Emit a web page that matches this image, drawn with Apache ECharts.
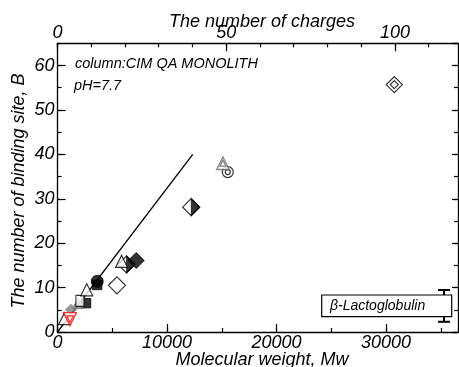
<!DOCTYPE html>
<html>
<head>
<meta charset="utf-8">
<script src="https://cdn.jsdelivr.net/npm/echarts@6/dist/echarts.min.js"></script>
<style>
  html, body { margin: 0; padding: 0; background: #fff; }
  #chart { width: 459px; height: 367px; }
</style>
</head>
<body>
<div id="chart"></div>
<script>
// Axis extents
const mwMax = 36575;      // molecular weight (bottom)
const chargeMax = 118.7;  // number of charges (top)
const bMax = 65;          // number of binding sites

// Axis titles
const titleBottom = 'Molecular weight, Mw';
const titleTop = 'The number of charges';
const titleLeft = 'The number of binding site, B';

// Linear guide through the origin
const fitLine = [[0, 0], [12350, 40]];

// Protein points: [Mw, B]
const dblDiamond   = [[30760, 55.7]];
const dblTriangle  = [[15110, 38.0]];
const dblCircle    = [[15550, 36.0]];
const halfDiamond  = [[12210, 28.1], [6300, 15.2]];
const blackDiamond = [[7190, 16.1]];
const openTriangle = [[5850, 15.9], [2670, 9.5], [640, 3.0]];
const openDiamond  = [[5430, 10.5]];
const blackSquare  = [[3620, 10.6], [2600, 6.5]];
const blackCircle  = [[3630, 11.4]];
const openSquare   = [[2050, 7.0]];
const greyTriangle = [[1870, 6.5]];
const greyDiamond  = [[1230, 5.0]];
const redTriangle  = [[1140, 2.9]];

// Error bar: [Mw, low, high]
const errorBar = [[35300, 2.3, 9.45]];

const legendLabel = 'β-Lactoglobulin';
const noteLines = ['column:CIM QA MONOLITH', 'pH=7.7'];

const FONT = 'Liberation Sans, Arial, sans-serif';
const lblStyle = { fontFamily: FONT, fontStyle: 'italic', fontSize: 18, color: '#000' };
const axisLineStyle = { color: '#000', width: 1.3 };
const plain = (v) => String(v);

function majorAxis(extra) {
  return Object.assign({
    type: 'value', min: 0, splitLine: { show: false },
    axisLine: { show: true, onZero: false, lineStyle: axisLineStyle },
    axisTick: { show: true, inside: true, length: 8, lineStyle: { color: '#000', width: 1.2 } },
    axisLabel: Object.assign({ showMaxLabel: false, formatter: plain }, lblStyle)
  }, extra);
}
function minorAxis(extra) {
  return Object.assign({
    type: 'value', min: 0, splitLine: { show: false },
    axisLine: { show: false, onZero: false },
    axisTick: { show: true, inside: true, length: 4, lineStyle: { color: '#000', width: 1.2 } },
    axisLabel: { show: false }
  }, extra);
}

function pts(data, symbol, size, style, extra) {
  return Object.assign({
    type: 'scatter', data: data, symbol: symbol, symbolSize: size,
    itemStyle: style, silent: true
  }, extra || {});
}
const hollow = (c, w) => ({ color: '#fff', borderColor: c, borderWidth: w || 1.2 });
const hollowNoFill = (c, w) => ({ color: 'rgba(0,0,0,0)', borderColor: c, borderWidth: w || 1.2 });
const solid = (c) => ({ color: c, borderColor: c, borderWidth: 1 });

const halfPath = 'path://M0,0 L10,10 L0,20 Z';
const titleFont = 'italic 18px ' + FONT;
const noteFont = 'italic 14.5px ' + FONT;

const chart = echarts.init(document.getElementById('chart'), null, { renderer: 'canvas' });
chart.setOption({
  animation: false,
  backgroundColor: '#fff',
  grid: { left: 57.5, right: 1, top: 43.3, bottom: 35, containLabel: false, outerBoundsMode: 'none' },
  xAxis: [
    majorAxis({ position: 'bottom', max: mwMax, interval: 10000,
      axisLabel: Object.assign({ showMaxLabel: false, margin: 2, formatter: plain }, lblStyle) }),
    minorAxis({ position: 'bottom', max: mwMax, interval: 5000 }),
    majorAxis({ position: 'top', max: chargeMax, interval: 50,
      axisLabel: Object.assign({ showMaxLabel: false, margin: 1, formatter: plain }, lblStyle) }),
    minorAxis({ position: 'top', max: chargeMax, interval: 10 })
  ],
  yAxis: [
    majorAxis({ position: 'left', max: bMax, interval: 10,
      axisLabel: Object.assign({ showMaxLabel: false, margin: 3, formatter: plain }, lblStyle) }),
    minorAxis({ position: 'left', max: bMax, interval: 5 }),
    majorAxis({ position: 'right', max: bMax, interval: 10, axisLabel: { show: false }, axisTick: { show: true, inside: true, length: 6, lineStyle: { color: '#000', width: 1.2 } } }),
    minorAxis({ position: 'right', max: bMax, interval: 5 })
  ],
  graphic: [
    { type: 'text', x: 262, y: 13, z: 100,
      style: { text: titleTop, font: titleFont, fill: '#000', textAlign: 'center', textVerticalAlign: 'top' } },
    { type: 'text', x: 262, y: 351, z: 100,
      style: { text: titleBottom, font: titleFont, fill: '#000', textAlign: 'center', textVerticalAlign: 'top' } },
    { type: 'text', x: 19, y: 191, rotation: Math.PI / 2, z: 100,
      style: { text: titleLeft, font: titleFont, fill: '#000', textAlign: 'center', textVerticalAlign: 'middle' } },
    { type: 'text', left: 75, top: 56, z: 100,
      style: { text: noteLines[0], font: noteFont, fill: '#000' } },
    { type: 'text', left: 74, top: 78, z: 100,
      style: { text: noteLines[1], font: noteFont, fill: '#000' } },
    { type: 'rect', z: 100, shape: { x: 321.7, y: 295, width: 130, height: 21.7 },
      style: { fill: '#fff', stroke: '#000', lineWidth: 1.2 } },
    { type: 'text', z: 101, left: 330, top: 299,
      style: { text: legendLabel, font: 'italic 14px ' + FONT, fill: '#000' } }
  ],
  series: [
    { type: 'line', data: fitLine, symbol: 'none', silent: true,
      lineStyle: { color: '#000', width: 1.3 }, z: 1 },
    {
      type: 'custom', data: errorBar, silent: true, z: 3,
      renderItem: function (params, api) {
        const top = api.coord([api.value(0), api.value(2)]);
        const bot = api.coord([api.value(0), api.value(1)]);
        const hw = 6;
        const st = { stroke: '#000', lineWidth: 2 };
        return { type: 'group', children: [
          { type: 'line', shape: { x1: top[0], y1: top[1], x2: bot[0], y2: bot[1] }, style: st },
          { type: 'line', shape: { x1: top[0] - hw, y1: top[1], x2: top[0] + hw, y2: top[1] }, style: st },
          { type: 'line', shape: { x1: bot[0] - hw, y1: bot[1], x2: bot[0] + hw, y2: bot[1] }, style: st }
        ] };
      }
    },
    pts(dblDiamond, 'diamond', 16, hollow('#000')),
    pts(dblDiamond, 'diamond', 8, hollowNoFill('#000')),
    pts(dblCircle, 'circle', 11, hollow('#000')),
    pts(dblCircle, 'circle', 5, hollowNoFill('#000')),
    pts(dblTriangle, 'triangle', 12.5, hollow('#666', 1.4)),
    pts(dblTriangle, 'triangle', 6, hollowNoFill('#666', 1.2)),
    pts(halfDiamond, 'diamond', 17, hollow('#000')),
    pts(halfDiamond, halfPath, [8.5, 17], solid('#000'), { symbolOffset: [4.25, 0] }),
    pts(blackDiamond, 'diamond', 16, solid('#000')),
    pts(openDiamond, 'diamond', 17, hollow('#000')),
    pts(blackSquare, 'rect', 9.5, solid('#000')),
    pts(blackCircle, 'circle', 12, solid('#000')),
    pts(greyDiamond, 'diamond', 11, solid('#808080')),
    pts(greyTriangle, 'triangle', 11, solid('#808080')),
    pts(openSquare, 'rect', [8, 11], hollow('#000')),
    pts(openTriangle, 'triangle', 12, hollow('#000')),
    pts(redTriangle, 'triangle', 13, hollow('#ff0000', 1.3), { symbolRotate: 180 }),
    pts(redTriangle, 'triangle', 6.5, hollowNoFill('#ff0000', 1.1), { symbolRotate: 180 })
  ]
});
</script>
</body>
</html>
